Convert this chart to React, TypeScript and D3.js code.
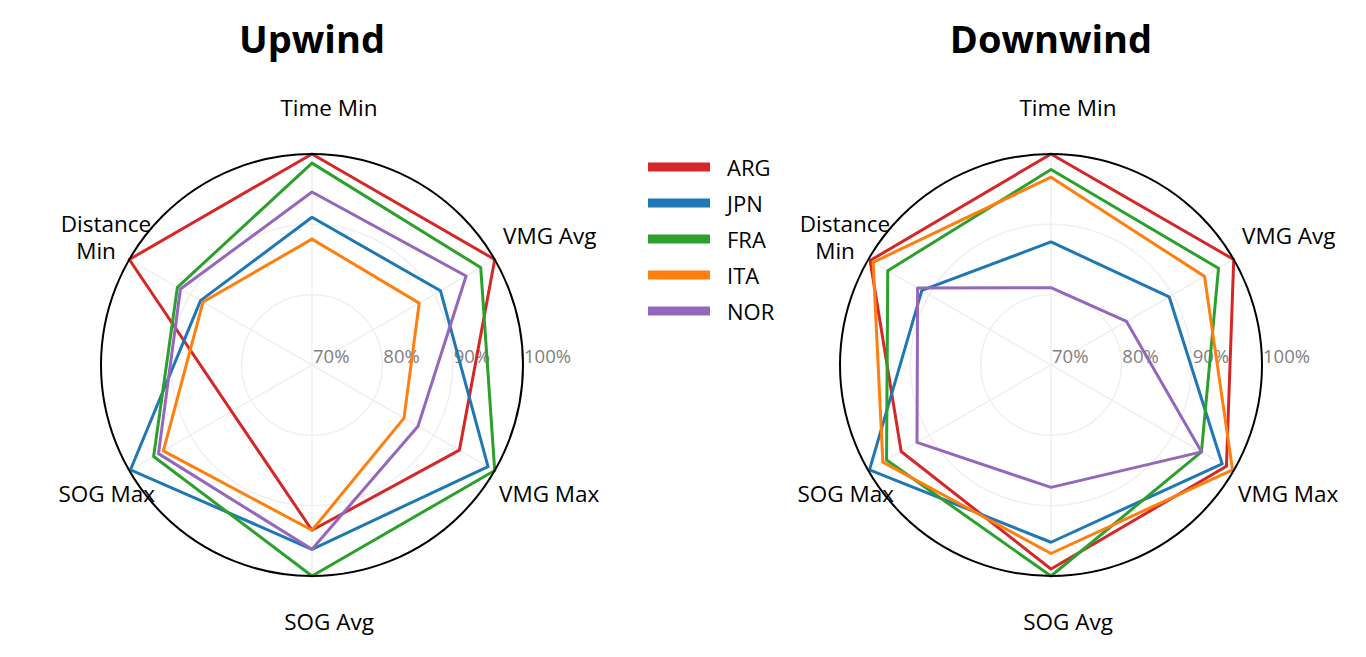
import React from 'react';
import * as d3 from 'd3';

const categories = ['Time Min', 'VMG Avg', 'VMG Max', 'SOG Avg', 'SOG Max', 'Distance Min'];
const teams = ['ARG', 'JPN', 'FRA', 'ITA', 'NOR'];
const teamColors = ['#d62728', '#1f77b4', '#2ca02c', '#ff7f0e', '#9467bd'];
const radialTicks = [70, 80, 90, 100];

// percent of best, per team, in category order
const upwindARG = [100, 100, 94.2, 93.5, 83.2, 100];
const upwindJPN = [91.0, 91.1, 98.9, 96.2, 99.8, 88.3];
const upwindFRA = [98.7, 97.7, 100, 100, 96.0, 92.1];
const upwindITA = [87.9, 87.6, 85.1, 93.5, 94.4, 87.9];
const upwindNOR = [94.6, 95.3, 87.4, 96.2, 95.2, 91.6];

const downwindARG = [100, 100, 98.8, 99.0, 94.6, 99.7];
const downwindJPN = [87.5, 89.4, 98.1, 95.2, 99.8, 91.2];
const downwindFRA = [97.8, 97.5, 94.7, 100, 97.0, 96.8];
const downwindITA = [96.7, 95.2, 99.8, 96.8, 97.6, 99.2];
const downwindNOR = [81.0, 82.4, 94.7, 87.4, 92.0, 91.9];

const upwind = [upwindARG, upwindJPN, upwindFRA, upwindITA, upwindNOR];
const downwind = [downwindARG, downwindJPN, downwindFRA, downwindITA, downwindNOR];

const FONT = '"Open Sans", "Noto Sans", sans-serif';
const R = 211;

const rScale = d3.scaleLinear().domain([70, 100]).range([0, R]);
const aScale = d3.scalePoint<string>().domain(categories).range([0, 2 * Math.PI * (5 / 6)]);

const line = d3.lineRadial<number>()
  .angle((_, i) => aScale(categories[i]) as number)
  .radius(d => rScale(d))
  .curve(d3.curveLinearClosed);

// label anchors relative to the chart centre (matplotlib puts them a bit right)
const labelPos: { dx: number; dy: number; anchor: string; lines: { text: string; dx: number; dy: number }[] }[] = [
  { dx: 17, dy: -258, anchor: 'middle', lines: [{ text: 'Time Min', dx: 0, dy: 0 }] },
  { dx: 191, dy: -130, anchor: 'start', lines: [{ text: 'VMG Avg', dx: 0, dy: 0 }] },
  { dx: 187, dy: 128, anchor: 'start', lines: [{ text: 'VMG Max', dx: 0, dy: 0 }] },
  { dx: 17, dy: 256, anchor: 'middle', lines: [{ text: 'SOG Avg', dx: 0, dy: 0 }] },
  { dx: -157, dy: 128, anchor: 'end', lines: [{ text: 'SOG Max', dx: 0, dy: 0 }] },
  { dx: -206, dy: -142, anchor: 'middle', lines: [{ text: 'Distance', dx: 0, dy: 0 }, { text: 'Min', dx: -10, dy: 27 }] },
];

const Radar: React.FC<{ cx: number; cy: number; title: string; data: number[][] }> = ({ cx, cy, title, data }) => {
  return (
    <g>
      <text x={cx} y={53} textAnchor="middle" fontFamily={FONT} fontWeight="bold" fontSize={38} fill="#000">{title}</text>
      <g transform={`translate(${cx},${cy})`}>
        {radialTicks.slice(1, 3).map(t => (
          <circle key={t} r={rScale(t)} fill="none" stroke="#f0f0f0" strokeWidth={1.5} />
        ))}
        {categories.map(c => {
          const a = aScale(c) as number;
          return (
            <line key={c} x1={0} y1={0} x2={R * Math.sin(a)} y2={-R * Math.cos(a)} stroke="#f0f0f0" strokeWidth={1.5} />
          );
        })}
        {radialTicks.map(t => (
          <text key={t} x={rScale(t) + 1} y={-10} fontFamily={FONT} fontSize={18.5} fill="#808080" dominantBaseline="central">{t}%</text>
        ))}
        {data.map((vals, i) => (
          <path key={teams[i]} d={line(vals) || ''} fill="none" stroke={teamColors[i]} strokeWidth={3} strokeLinejoin="round" />
        ))}
        <circle r={R} fill="none" stroke="#000" strokeWidth={2} />
        {labelPos.map((lp, i) => (
          <text key={i} fontFamily={FONT} fontSize={22.5} fill="#000" textAnchor={lp.anchor} dominantBaseline="central">
            {lp.lines.map(l => (
              <tspan key={l.text} x={lp.dx + l.dx} y={lp.dy + l.dy}>{l.text}</tspan>
            ))}
          </text>
        ))}
      </g>
    </g>
  );
};

const App: React.FC = () => {
  React.useEffect(() => {
    document.body.style.margin = '0';
  }, []);

  const legendY = d3.scalePoint<string>().domain(teams).range([167, 311]);

  return (
    <svg width={1366} height={657} style={{ display: 'block', background: '#fff' }}>
      <Radar cx={312} cy={365} title="Upwind" data={upwind} />
      <Radar cx={1051} cy={365} title="Downwind" data={downwind} />
      <g>
        {teams.map((t, i) => (
          <g key={t} transform={`translate(0,${legendY(t)})`}>
            <rect x={648} y={-4.5} width={62} height={9} fill={teamColors[i]} />
            <text x={727} y={0} fontFamily={FONT} fontSize={22} fill="#000" dominantBaseline="central">{t}</text>
          </g>
        ))}
      </g>
    </svg>
  );
};

export default App;
